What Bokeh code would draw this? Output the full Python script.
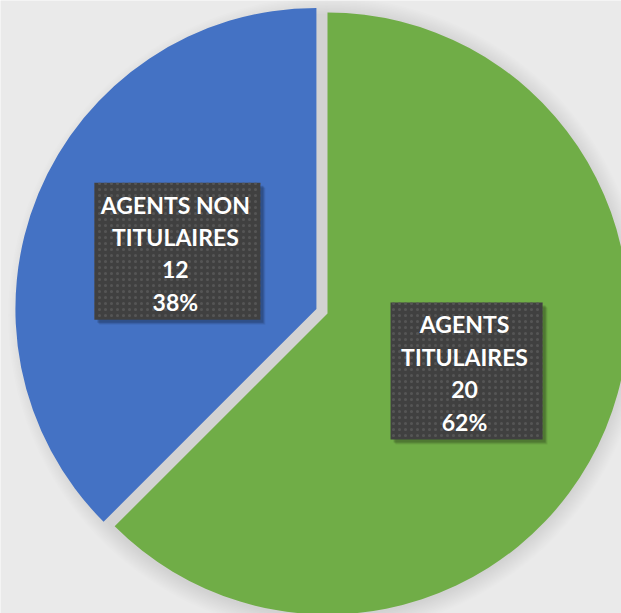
import math
from bokeh.plotting import figure
from bokeh.models import Range1d
from bokeh.core.properties import value
from bokeh.embed import file_html
from bokeh.resources import INLINE

# ---- data ----
categories = ["AGENTS TITULAIRES", "AGENTS NON TITULAIRES"]
label_lines = [["AGENTS", "TITULAIRES"], ["AGENTS NON", "TITULAIRES"]]
values = [20, 12]
colors = ["#70AD47", "#4472C4"]
explode = [0, 12]          # px offset of each slice along its bisector
box_widths = [152, 166]

# ---- layout (pixel coordinates of the picture, y flipped) ----
W, H = 621, 613
CX, CY = 327, -313          # pie centre
R = 301

p = figure(width=W, height=H, output_backend="svg", toolbar_location=None,
           x_range=Range1d(0, W), y_range=Range1d(-H, 0),
           min_border=0)
p.axis.visible = False
p.grid.visible = False
p.outline_line_color = None
p.background_fill_color = "#eaeaea"
p.border_fill_color = "#eaeaea"

total = sum(values)

# soft shadow around the pie
for i in range(12):
    p.circle(x=[CX - 1], y=[CY - 2], radius=R + 1 + i * 1.5,
             fill_color="#000000", fill_alpha=0.007, line_color=None)

start = math.pi / 2  # top, going clockwise
slices = []
for v, c, ex in zip(values, colors, explode):
    sweep = v / total * 2 * math.pi
    end = start - sweep
    mid = (start + end) / 2
    cx = CX + ex * math.cos(mid)
    cy = CY + ex * math.sin(mid)
    p.wedge(x=[cx], y=[cy], radius=R, start_angle=end, end_angle=start,
            direction="anticlock", fill_color=c, line_color=None)
    slices.append((cx, cy, mid))
    start = end

# labels
for (cx, cy, mid), lines, v, bw in zip(slices, label_lines, values, box_widths):
    lx = cx + 0.5 * R * math.cos(mid)
    ly = cy + 0.5 * R * math.sin(mid)
    bh = 137
    # box shadow
    for k, a in [(5, 0.07), (4, 0.1), (3, 0.15)]:
        p.rect(x=[lx + k], y=[ly - k], width=bw, height=bh,
               fill_color="#000000", fill_alpha=a, line_color=None)
    p.rect(x=[lx], y=[ly], width=bw, height=bh, fill_color="#404040",
           line_color=None, hatch_pattern="dot", hatch_color="#555555",
           hatch_scale=6, hatch_weight=2)
    pct = f"{round(v / total * 100)}%"
    texts = lines + [str(v), pct]
    n = len(texts)
    spacing = 32.5
    for j, t in enumerate(texts):
        ty = ly - 2 - (j - (n - 1) / 2) * spacing
        p.text(x=[lx - 2], y=[ty], text=[t], text_align="center",
               text_baseline="middle", text_color="white",
               text_font=value("Lato"), text_font_style="bold",
               text_font_size="23px")

open("out.html", "w").write(file_html(p, INLINE))
